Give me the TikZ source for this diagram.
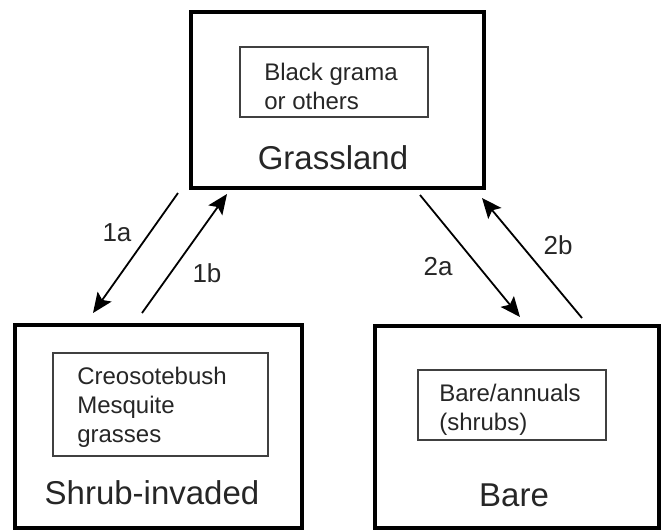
\documentclass[tikz,border=0pt]{standalone}
\usepackage{fontspec}
\setmainfont{Liberation Sans}
\usetikzlibrary{arrows.meta,calc}
\begin{document}
\begin{tikzpicture}[x=1pt,y=-1pt,
  outerbox/.style={draw=black, line width=3.8pt, inner sep=0pt},
  innerbox/.style={draw=black!75, line width=1.8pt, inner sep=0pt},
  bigtext/.style={font=\fontsize{33}{38}\selectfont, text=black!85, inner sep=0pt},
  smalltext/.style={font=\fontsize{24}{29}\selectfont, align=left, text=black!85, inner sep=0pt},
  arr/.style={-{Stealth[length=20pt,width=17pt,inset=4pt]}, line width=1.8pt},
  lbl/.style={font=\fontsize{26}{30}\selectfont, text=black!85, inner sep=0pt}]
\useasboundingbox (0,0) rectangle (664,531);
% outer boxes
\node[outerbox, minimum width=293pt, minimum height=176pt] (grass) at (337.5,100) {};
\node[outerbox, minimum width=287pt, minimum height=203pt] (shrub) at (158.5,426.5) {};
\node[outerbox, minimum width=284pt, minimum height=202pt] (bare) at (517,427) {};
% inner boxes
\node[innerbox, minimum width=188pt, minimum height=70pt] (ginner) at (334,82) {};
\node[innerbox, minimum width=215pt, minimum height=103pt] (sinner) at (160.5,404.5) {};
\node[innerbox, minimum width=188pt, minimum height=70pt] (binner) at (512,405) {};
% inner texts
\node[smalltext, anchor=west] (gtxt) at ($(ginner.west)+(25,4)$) {Black grama\\or others};
\node[smalltext, anchor=west] (stxt) at ($(sinner.west)+(25,3)$) {Creosotebush\\Mesquite\\grasses};
\node[smalltext, anchor=west] (btxt) at ($(binner.west)+(22,5)$) {Bare/annuals\\(shrubs)};
% state names
\node[bigtext] (glabel) at (333,158) {Grassland};
\node[bigtext] (slabel) at (152,493) {Shrub-invaded};
\node[bigtext] (blabel) at (514,495) {Bare};
% arrow ends
\coordinate (a1s) at (178,193);
\coordinate (a1e) at (93,313);
\coordinate (b1s) at (142,313);
\coordinate (b1e) at (227,194);
\coordinate (a2s) at (420,195);
\coordinate (a2e) at (520,317);
\coordinate (b2s) at (582,318);
\coordinate (b2e) at (482,198);
\draw[arr] (a1s) -- (a1e);
\draw[arr] (b1s) -- (b1e);
\draw[arr] (a2s) -- (a2e);
\draw[arr] (b2s) -- (b2e);
% arrow labels
\node[lbl] (l1a) at (117,233) {1a};
\node[lbl] (l1b) at (207,273) {1b};
\node[lbl] (l2a) at (438,267) {2a};
\node[lbl] (l2b) at (558,245) {2b};
\end{tikzpicture}
\end{document}
